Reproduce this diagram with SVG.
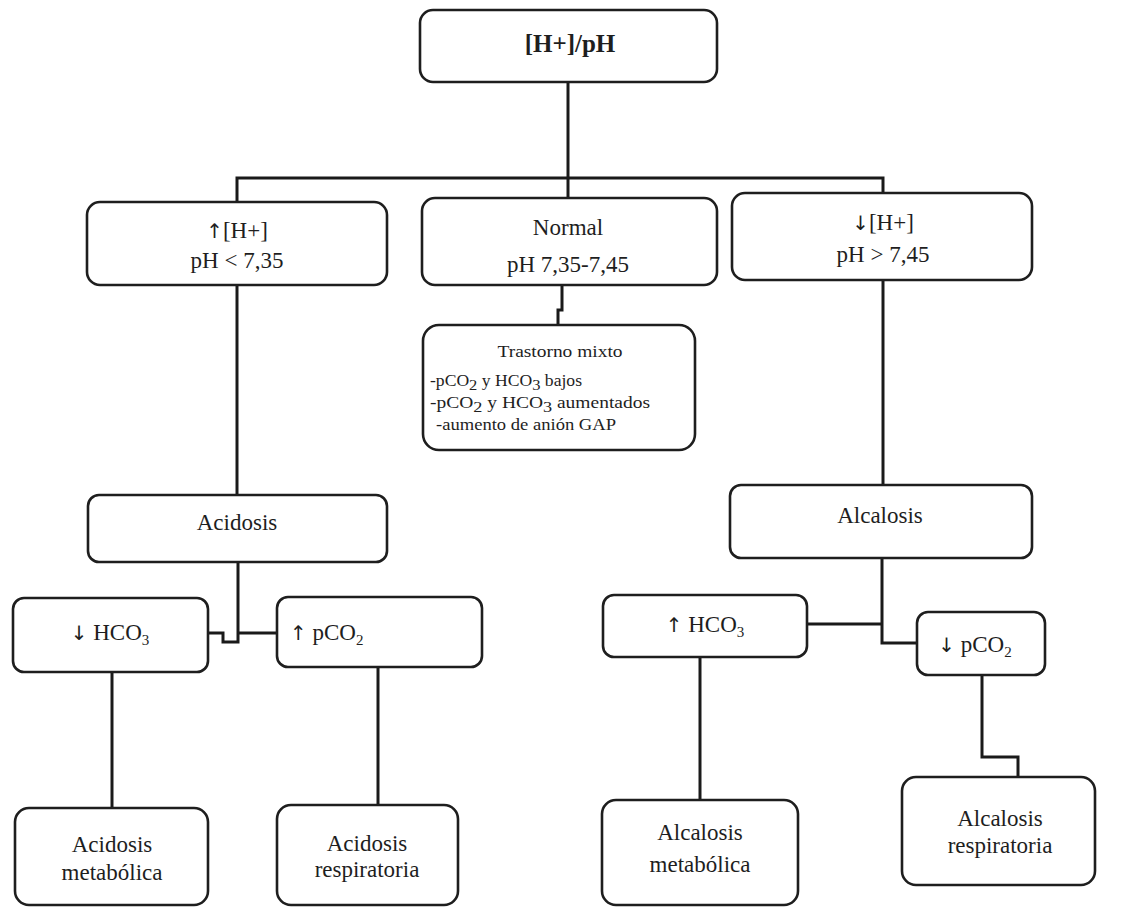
<svg xmlns="http://www.w3.org/2000/svg" width="1125" height="910" viewBox="0 0 1125 910">
  <style>
    .box { fill: #ffffff; stroke: #1e1e1e; stroke-width: 2.6; }
    .wire { fill: none; stroke: #1a1a1a; stroke-width: 3; stroke-linejoin: miter; }
    text { font-family: "Liberation Serif", "DejaVu Serif", serif; fill: #1e1e1e; font-size: 23px; }
    .c { text-anchor: middle; }
    .title { font-weight: bold; font-size: 25px; }
    .small { font-size: 16px; }
    .sub { font-size: 15px; }
    .arr { font-family: "DejaVu Sans", sans-serif; font-size: 20px; fill: #1e1e1e; }
  </style>
  <rect width="1125" height="910" fill="#ffffff"/>

  <!-- connectors -->
  <g id="connectors">
    <path class="wire" d="M568 82 V177"/>
    <path class="wire" d="M237 202 V178 H883 V193"/>
    <path class="wire" d="M568 177 V198"/>
    <path class="wire" d="M562 285 V310 H558 V325"/>
    <path class="wire" d="M237 285 V495"/>
    <path class="wire" d="M883 280 V485"/>
    <path class="wire" d="M238 562 V642 H223 V633 H208"/>
    <path class="wire" d="M238 633 H277"/>
    <path class="wire" d="M882 558 V643 H917"/>
    <path class="wire" d="M882 624 H807"/>
    <path class="wire" d="M112 672 V808"/>
    <path class="wire" d="M378 667 V805"/>
    <path class="wire" d="M700 657 V800"/>
    <path class="wire" d="M982 675 V757 H1018 V778"/>
  </g>

  <g id="root">
    <rect class="box" x="420" y="10" width="297" height="72" rx="13"/>
    <text class="c title" x="570" y="52">[H+]/pH</text>
  </g>

  <g id="high-h">
    <rect class="box" x="87" y="202" width="300" height="83" rx="13"/>
    <text class="c" x="237" y="238"><tspan class="arr">↑</tspan>[H+]</text>
    <text class="c" x="237" y="268">pH &lt; 7,35</text>
  </g>

  <g id="normal">
    <rect class="box" x="422" y="198" width="295" height="87" rx="13"/>
    <text class="c" x="568" y="235">Normal</text>
    <text class="c" x="568" y="272">pH 7,35-7,45</text>
  </g>

  <g id="low-h">
    <rect class="box" x="732" y="193" width="300" height="87" rx="13"/>
    <text class="c" x="883" y="230"><tspan class="arr">↓</tspan>[H+]</text>
    <text class="c" x="883" y="262">pH &gt; 7,45</text>
  </g>

  <g id="mixed">
    <rect class="box" x="423" y="325" width="272" height="125" rx="16"/>
    <text class="c small" x="560" y="357" textLength="125" lengthAdjust="spacingAndGlyphs">Trastorno mixto</text>
    <text class="small" x="430" y="386" textLength="152" lengthAdjust="spacingAndGlyphs">-pCO<tspan class="sub" dy="4">2</tspan><tspan dy="-4"> y HCO</tspan><tspan class="sub" dy="4">3</tspan><tspan dy="-4"> bajos</tspan></text>
    <text class="small" x="430" y="408" textLength="220" lengthAdjust="spacingAndGlyphs">-pCO<tspan class="sub" dy="4">2</tspan><tspan dy="-4"> y HCO</tspan><tspan class="sub" dy="4">3</tspan><tspan dy="-4"> aumentados</tspan></text>
    <text class="small" x="436" y="430" textLength="180" lengthAdjust="spacingAndGlyphs">-aumento de anión GAP</text>
  </g>

  <g id="acidosis">
    <rect class="box" x="88" y="495" width="299" height="67" rx="11"/>
    <text class="c" x="237" y="530">Acidosis</text>
  </g>

  <g id="alcalosis">
    <rect class="box" x="730" y="485" width="302" height="73" rx="11"/>
    <text class="c" x="880" y="523">Alcalosis</text>
  </g>

  <g id="low-hco3">
    <rect class="box" x="13" y="598" width="195" height="74" rx="11"/>
    <text class="c" x="110" y="640"><tspan class="arr">↓</tspan> HCO<tspan class="sub" dy="5">3</tspan></text>
  </g>

  <g id="high-pco2">
    <rect class="box" x="277" y="597" width="205" height="70" rx="11"/>
    <text x="290" y="640"><tspan class="arr">↑</tspan> pCO<tspan class="sub" dy="5">2</tspan></text>
  </g>

  <g id="high-hco3">
    <rect class="box" x="603" y="595" width="204" height="62" rx="11"/>
    <text class="c" x="705" y="632"><tspan class="arr">↑</tspan> HCO<tspan class="sub" dy="5">3</tspan></text>
  </g>

  <g id="low-pco2">
    <rect class="box" x="917" y="612" width="128" height="63" rx="11"/>
    <text class="c" x="975" y="652"><tspan class="arr">↓</tspan> pCO<tspan class="sub" dy="5">2</tspan></text>
  </g>

  <g id="acidosis-metabolica">
    <rect class="box" x="15" y="808" width="193" height="97" rx="14"/>
    <text class="c" x="112" y="852">Acidosis</text>
    <text class="c" x="112" y="880">metabólica</text>
  </g>

  <g id="acidosis-respiratoria">
    <rect class="box" x="277" y="805" width="181" height="100" rx="14"/>
    <text class="c" x="367" y="851">Acidosis</text>
    <text class="c" x="367" y="877">respiratoria</text>
  </g>

  <g id="alcalosis-metabolica">
    <rect class="box" x="602" y="800" width="196" height="105" rx="14"/>
    <text class="c" x="700" y="840">Alcalosis</text>
    <text class="c" x="700" y="872">metabólica</text>
  </g>

  <g id="alcalosis-respiratoria">
    <rect class="box" x="902" y="777" width="193" height="108" rx="14"/>
    <text class="c" x="1000" y="826">Alcalosis</text>
    <text class="c" x="1000" y="853">respiratoria</text>
  </g>
</svg>
